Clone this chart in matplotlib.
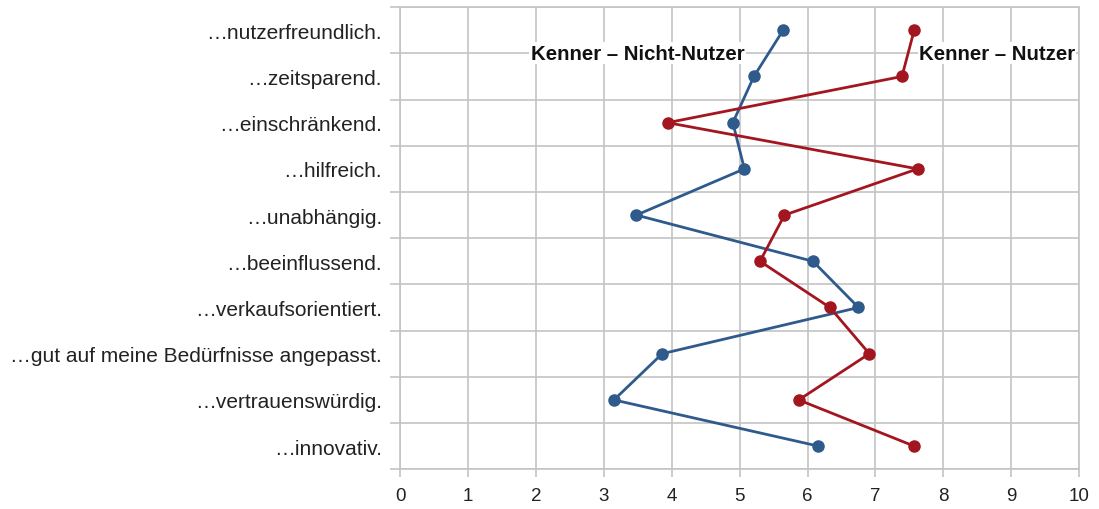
import matplotlib
matplotlib.use("Agg")
import matplotlib.pyplot as plt
import numpy as np

categories = ["…nutzerfreundlich.", "…zeitsparend.", "…einschränkend.", "…hilfreich.",
              "…unabhängig.", "…beeinflussend.", "…verkaufsorientiert.",
              "…gut auf meine Bedürfnisse angepasst.", "…vertrauenswürdig.", "…innovativ."]
nicht_nutzer = [5.64, 5.21, 4.90, 5.07, 3.48, 6.08, 6.75, 3.86, 3.15, 6.16]
nutzer = [7.57, 7.39, 3.94, 7.62, 5.66, 5.30, 6.33, 6.91, 5.87, 7.57]
series_names = ["Kenner – Nicht-Nutzer", "Kenner – Nutzer"]
x_ticks = list(range(0, 11))

plt.rcParams['font.family'] = ['Liberation Sans', 'DejaVu Sans']

fig = plt.figure(figsize=(10.99, 5.10), dpi=100)
ax = fig.add_axes([0.364, 0.078, 0.618, 0.906])

blue = "#2E5A8C"
red = "#A3161F"
grid_c = "#C4C4C4"

ypos = np.arange(len(categories))
ax.plot(nicht_nutzer, ypos, color=blue, lw=2, marker="o", ms=8, zorder=3)
ax.plot(nutzer, ypos, color=red, lw=2, marker="o", ms=8, zorder=3)

ax.set_xlim(0, 10)
ax.set_ylim(len(categories) - 0.5, -0.5)
ax.set_xticks(x_ticks)
ax.set_xticklabels([str(t) for t in x_ticks], fontsize=13.5, color="#222222")
ax.set_yticks(ypos)
ax.set_yticklabels(categories, fontsize=15, color="#222222")
ax.set_yticks(np.arange(-0.5, len(categories), 1.0), minor=True)

ax.tick_params(axis="y", which="major", length=0, pad=13)
ax.tick_params(axis="y", which="minor", length=7, color=grid_c, width=1.2)
ax.tick_params(axis="x", which="major", length=6, color=grid_c, width=1.2, pad=7)

ax.grid(True, axis="x", which="major", color=grid_c, lw=1.2, zorder=0)
ax.grid(True, axis="y", which="minor", color=grid_c, lw=1.2, zorder=0)
for s in ax.spines.values():
    s.set_color(grid_c)
    s.set_linewidth(1.2)

ax.text(5.07, 0.5, series_names[0], ha="right", va="center", fontsize=14.7, fontweight="bold",
        color="#111111", bbox=dict(facecolor="white", edgecolor="none", pad=1), zorder=2)
ax.text(7.64, 0.5, series_names[1], ha="left", va="center", fontsize=14.7, fontweight="bold",
        color="#111111", bbox=dict(facecolor="white", edgecolor="none", pad=1), zorder=2)

fig.savefig("out.png", dpi=100, facecolor="white")
